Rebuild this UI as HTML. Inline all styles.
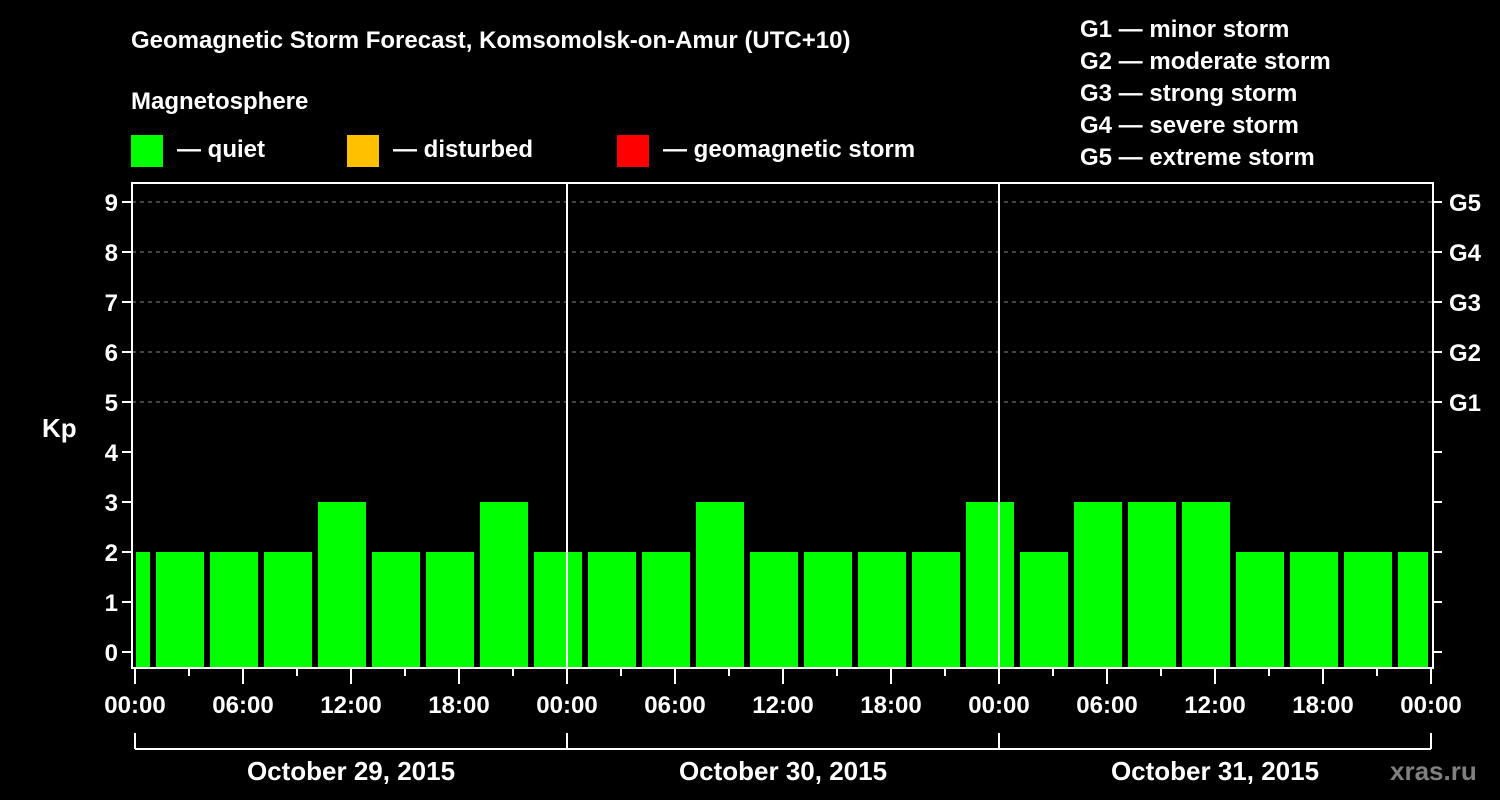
<!DOCTYPE html>
<html><head><meta charset="utf-8"><style>
html,body{margin:0;padding:0;background:#000;}
svg{display:block;font-family:"Liberation Sans",Arial,sans-serif;font-weight:bold;}
</style></head><body>
<svg id="chart" width="1500" height="800" viewBox="0 0 1500 800">
<rect width="1500" height="800" fill="#000"/>
<text x="131" y="48" fill="#fff" font-size="24">Geomagnetic Storm Forecast, Komsomolsk-on-Amur (UTC+10)</text>
<text x="131" y="109" fill="#fff" font-size="24">Magnetosphere</text>
<g><rect x="131" y="135" width="32" height="32" fill="#00ff00"/><text x="177" y="157" fill="#fff" font-size="24">— quiet</text></g>
<g><rect x="347" y="135" width="32" height="32" fill="#ffc000"/><text x="393" y="157" fill="#fff" font-size="24">— disturbed</text></g>
<g><rect x="617" y="135" width="32" height="32" fill="#ff0000"/><text x="663" y="157" fill="#fff" font-size="24">— geomagnetic storm</text></g>
<g fill="#fff" font-size="24">
<text x="1080" y="37">G1 — minor storm</text>
<text x="1080" y="69">G2 — moderate storm</text>
<text x="1080" y="101">G3 — strong storm</text>
<text x="1080" y="133">G4 — severe storm</text>
<text x="1080" y="165">G5 — extreme storm</text>
</g>
<text x="42" y="437" fill="#fff" font-size="26">Kp</text>
<text x="1390" y="780" fill="#808080" font-size="26">xras.ru</text>
<g id="plot"></g>
</svg>
<script>
const kpValues=[2,2,2,2,3,2,2,3,2,2,2,3,2,2,2,2,3,2,3,3,3,2,2,2,2];
const startHour=-2; // first 3h slot start (hours from Oct 29 00:00)
const yTicks=[0,1,2,3,4,5,6,7,8,9];
const gLabels=['G1','G2','G3','G4','G5'];
const gLevels=[5,6,7,8,9];
const xLabels=['00:00','06:00','12:00','18:00','00:00','06:00','12:00','18:00','00:00','06:00','12:00','18:00','00:00'];
const dayLabels=['October 29, 2015','October 30, 2015','October 31, 2015'];
const totalHours=72;
const L=135,R=1431,T=183,B=668,FL=132,FR=1433;
const x=h=>L+(R-L)*h/totalHours;
const y=v=>652-50*v;
const NS='http://www.w3.org/2000/svg';
const plot=document.getElementById('plot');
function mk(tag,a,txt){const e=document.createElementNS(NS,tag);for(const k in a)e.setAttribute(k,a[k]);if(txt!==undefined)e.textContent=txt;plot.appendChild(e);return e;}
gLevels.forEach((v,i)=>{
 const g=mk('line',{x1:FL,x2:FR,y1:y(v),y2:y(v),stroke:'#888','stroke-dasharray':'4,4','stroke-width':1});
 
 
});
kpValues.forEach((v,i)=>{
 const h0=startHour+3*i,h1=h0+3;
 let x0=x(h0)+3,x1=x(h1)-3;
 x0=Math.max(x0,L+1);x1=Math.min(x1,R-3);
 const c=v>=5?'#ff0000':(v>=4?'#ffc000':'#00ff00');
 const b=mk('rect',{x:x0,y:y(v),width:x1-x0,height:B-1-y(v),fill:c});
 
 
});
[24,48].forEach(h=>{const d=mk('line',{x1:x(h),x2:x(h),y1:T,y2:B,stroke:'#fff','stroke-width':2});
 
 });
const fr=mk('rect',{x:FL,y:T,width:FR-FL,height:B-T,fill:'none',stroke:'#fff','stroke-width':2});


yTicks.forEach(v=>{
 mk('line',{x1:FL-10,x2:FL,y1:y(v),y2:y(v),stroke:'#fff','stroke-width':2});
 mk('line',{x1:FR,x2:FR+9,y1:y(v),y2:y(v),stroke:'#fff','stroke-width':2});
 const t=mk('text',{x:FL-14,y:y(v)+9,fill:'#fff','font-size':24,'text-anchor':'end'},String(v));
 
 
});
gLevels.forEach((v,i)=>{
 const t=mk('text',{x:1449,y:y(v)+9,fill:'#fff','font-size':24},gLabels[i]);
 
 
});
for(let h=0;h<=totalHours;h+=3){
 const major=h%6===0;
 mk('line',{x1:x(h),x2:x(h),y1:B,y2:B+(major?16:8),stroke:'#fff','stroke-width':2});
}
xLabels.forEach((s,i)=>{
 const t=mk('text',{x:x(6*i),y:713,fill:'#fff','font-size':24,'text-anchor':'middle'},s);
 
 
});
mk('line',{x1:x(0),x2:x(72),y1:749,y2:749,stroke:'#fff','stroke-width':2});
[0,24,48,72].forEach(h=>mk('line',{x1:x(h),x2:x(h),y1:733,y2:749,stroke:'#fff','stroke-width':2}));
dayLabels.forEach((s,i)=>{
 const t=mk('text',{x:x(24*i+12),y:780,fill:'#fff','font-size':26,'text-anchor':'middle'},s);
 
 
});
</script>
</body></html>
